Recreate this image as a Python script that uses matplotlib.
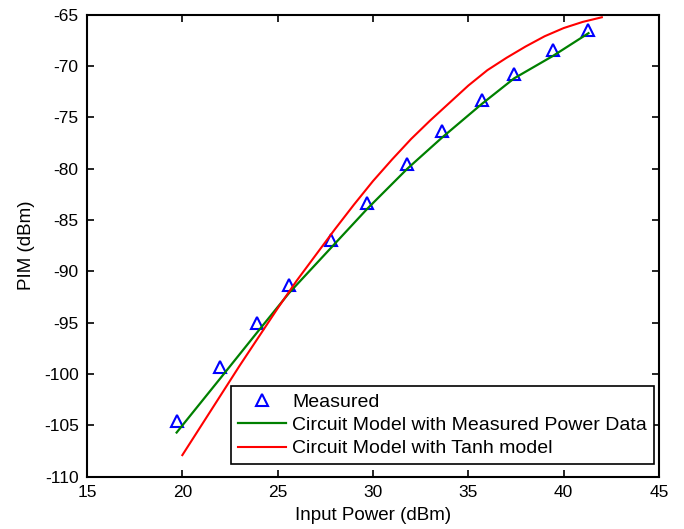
import matplotlib.pyplot as plt
import numpy as np

plt.rcParams['font.family'] = ['Liberation Sans', 'DejaVu Sans']
plt.rcParams['axes.unicode_minus'] = False

meas_x = [19.7, 22.0, 23.9, 25.6, 27.8, 29.7, 31.8, 33.6, 35.7, 37.4, 39.45, 41.3]
meas_y = [-104.6, -99.3, -95.0, -91.3, -86.9, -83.3, -79.5, -76.3, -73.3, -70.8, -68.4, -66.5]

green_x = [19.7, 22.0, 23.9, 25.6, 27.8, 29.7, 31.8, 33.6, 35.7, 37.4, 39.45, 41.3]
green_y = [-105.7, -100.4, -96.0, -92.1, -87.7, -83.9, -80.0, -77.0, -73.7, -71.2, -69.0, -66.8]

tanh_x = [20, 21, 22, 23, 24, 25, 26, 27, 28, 29, 30, 31, 32, 33, 34, 35, 36, 37, 38, 39, 40, 41, 42]
tanh_y = [-107.9, -105.0, -102.1, -99.2, -96.4, -93.6, -90.9, -88.4, -85.9, -83.5, -81.2, -79.1,
          -77.1, -75.3, -73.6, -71.9, -70.4, -69.2, -68.1, -67.1, -66.3, -65.7, -65.25]

fig = plt.figure(figsize=(6.84, 5.29), dpi=100)
ax = fig.add_axes([0.1272, 0.0989, 0.8363, 0.8733])

ax.plot(meas_x, meas_y, '^', color='b', mfc='none', ms=9, mew=1.5, label='Measured')
ax.plot(green_x, green_y, color='#008000', lw=1.6, label='Circuit Model with Measured Power Data')
ax.plot(tanh_x, tanh_y, color='#ff0000', lw=1.5, label='Circuit Model with Tanh model')

ax.set_xlim(15, 45)
ax.set_ylim(-110, -65)
ax.set_xticks(np.arange(15, 46, 5))
ax.set_yticks(np.arange(-110, -64, 5))
ax.tick_params(direction='in', top=True, right=True, labelsize=12.5, length=5, width=1.2, pad=6)
for s in ax.spines.values():
    s.set_linewidth(1.5)

ax.set_xlabel('Input Power (dBm)', fontsize=13.5, labelpad=5)
ax.set_ylabel('PIM (dBm)', fontsize=13.5, labelpad=6)

leg = ax.legend(loc='lower right', bbox_to_anchor=(0.991, 0.027), borderaxespad=0,
                fontsize=14, fancybox=False, framealpha=1, edgecolor='black',
                handlelength=2.5, handletextpad=0.3, labelspacing=0.3, borderpad=0.35)
leg.get_frame().set_linewidth(1.2)

fig.savefig('out.png', dpi=100)
